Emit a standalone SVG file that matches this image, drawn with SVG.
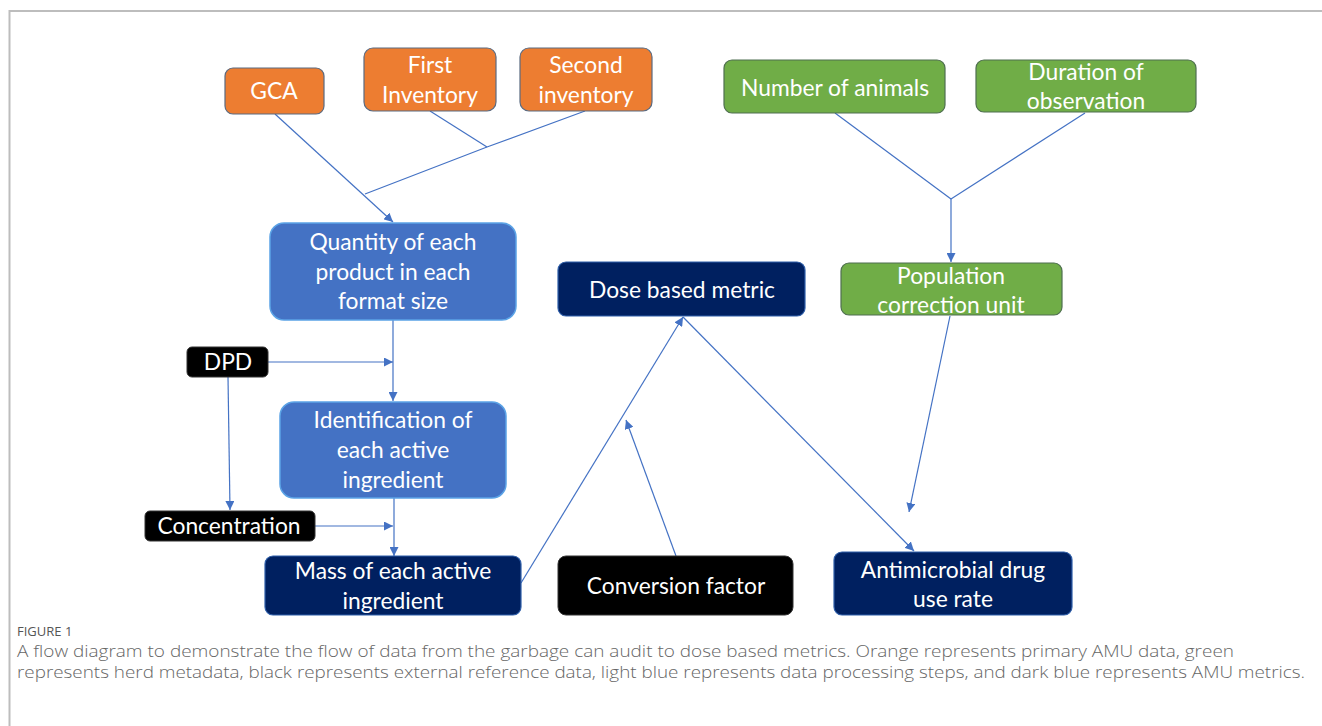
<svg xmlns="http://www.w3.org/2000/svg" width="1322" height="726" viewBox="0 0 1322 726">
<style>
.t{font-family:Lato,"Open Sans","Liberation Sans",sans-serif;font-size:22.8px;fill:#fff;text-anchor:middle}
.or{fill:#ED7D31;stroke:#5a6a80;stroke-width:1.2}
.gr{fill:#70AD47;stroke:#4f6f50;stroke-width:1.2}
.lb{fill:#4472C4;stroke:#5ba3e6;stroke-width:1.5}
.db{fill:#002060;stroke:#2f5faa;stroke-width:1.2}
.bk{fill:#000;stroke:#333;stroke-width:1}
.c{fill:none;stroke:#4472C4;stroke-width:1.2}
.cap{font-family:"Open Sans","Liberation Sans",sans-serif;fill:#666;font-weight:300}
.fig{font-family:"Open Sans","Liberation Sans",sans-serif;fill:#555;font-weight:400;font-size:13px}
</style>
<defs>
<marker id="ah" viewBox="0 0 10 10" refX="10" refY="5" markerWidth="9" markerHeight="9" markerUnits="userSpaceOnUse" orient="auto">
<path d="M0,0 L10,5 L0,10 z" fill="#4472C4"/>
</marker>
</defs>
<rect width="1322" height="726" fill="#fff"/>
<path d="M9.5,726 V11 H1322" fill="none" stroke="#bdbdbd" stroke-width="2"/>

<g id="connectors">
<line class="c" x1="275" y1="114" x2="393" y2="222" marker-end="url(#ah)"/>
<line class="c" x1="430" y1="111" x2="487" y2="147"/>
<polyline class="c" points="585,111 487,147 365,194"/>
<line class="c" x1="835" y1="113" x2="951" y2="199"/>
<line class="c" x1="1085" y1="113" x2="951" y2="199"/>
<line class="c" x1="951" y1="199" x2="951" y2="262" marker-end="url(#ah)"/>
<line class="c" x1="393" y1="320" x2="393" y2="401" marker-end="url(#ah)"/>
<line class="c" x1="268" y1="362" x2="393" y2="362" marker-end="url(#ah)"/>
<line class="c" x1="228" y1="377" x2="230" y2="510" marker-end="url(#ah)"/>
<line class="c" x1="315" y1="526" x2="393" y2="526" marker-end="url(#ah)"/>
<line class="c" x1="394" y1="498" x2="394" y2="556" marker-end="url(#ah)"/>
<line class="c" x1="521" y1="583" x2="683" y2="317" marker-end="url(#ah)"/>
<line class="c" x1="676" y1="556" x2="626" y2="420" marker-end="url(#ah)"/>
<line class="c" x1="683" y1="317" x2="914" y2="551" marker-end="url(#ah)"/>
<line class="c" x1="950" y1="316" x2="909" y2="512" marker-end="url(#ah)"/>
</g>

<g id="gca"><rect class="or" x="225" y="68" width="99" height="46" rx="8"/><text class="t" x="274" y="99">GCA</text></g>
<g id="first-inventory"><rect class="or" x="364" y="48" width="132" height="63" rx="9"/><text class="t" x="430" y="73">First</text><text class="t" x="430" y="103">Inventory</text></g>
<g id="second-inventory"><rect class="or" x="520" y="48" width="132" height="63" rx="9"/><text class="t" x="586" y="73">Second</text><text class="t" x="586" y="103">inventory</text></g>
<g id="number-of-animals"><rect class="gr" x="724" y="60" width="221" height="53" rx="8"/><text class="t" x="835" y="96">Number of animals</text></g>
<g id="duration-of-observation"><rect class="gr" x="976" y="60" width="220" height="52" rx="8"/><text class="t" x="1086" y="80">Duration of</text><text class="t" x="1086" y="109">observation</text></g>
<g id="quantity"><rect class="lb" x="270" y="223" width="246" height="97" rx="14"/><text class="t" x="393" y="250">Quantity of each</text><text class="t" x="393" y="280">product in each</text><text class="t" x="393" y="309">format size</text></g>
<g id="dpd"><rect class="bk" x="187" y="347" width="81" height="30" rx="5"/><text class="t" x="228" y="370">DPD</text></g>
<g id="identification"><rect class="lb" x="280" y="402" width="226" height="96" rx="14"/><text class="t" x="393" y="428">Identification of</text><text class="t" x="393" y="458">each active</text><text class="t" x="393" y="488">ingredient</text></g>
<g id="concentration"><rect class="bk" x="145" y="511" width="170" height="30" rx="5"/><text class="t" x="229" y="534">Concentration</text></g>
<g id="mass"><rect class="db" x="265" y="556" width="256" height="59" rx="8"/><text class="t" x="393" y="579">Mass of each active</text><text class="t" x="393" y="609">ingredient</text></g>
<g id="conversion-factor"><rect class="bk" x="558" y="556" width="235" height="59" rx="8"/><text class="t" x="676" y="594">Conversion factor</text></g>
<g id="dose-based-metric"><rect class="db" x="558" y="262" width="247" height="54" rx="8"/><text class="t" x="682" y="298">Dose based metric</text></g>
<g id="population-correction-unit"><rect class="gr" x="841" y="263" width="221" height="52" rx="8"/><text class="t" x="951" y="284">Population</text><text class="t" x="951" y="313">correction unit</text></g>
<g id="antimicrobial-drug-use-rate"><rect class="db" x="834" y="552" width="238" height="63" rx="8"/><text class="t" x="953" y="578">Antimicrobial drug</text><text class="t" x="953" y="607">use rate</text></g>

<g id="caption">
<text class="fig" x="17" y="636">FIGURE 1</text>
<text class="cap" x="17" y="657" font-size="16.5" textLength="1217" lengthAdjust="spacingAndGlyphs">A flow diagram to demonstrate the flow of data from the garbage can audit to dose based metrics. Orange represents primary AMU data, green</text>
<text class="cap" x="17" y="678" font-size="16.5" textLength="1288" lengthAdjust="spacingAndGlyphs">represents herd metadata, black represents external reference data, light blue represents data processing steps, and dark blue represents AMU metrics.</text>
</g>
</svg>
